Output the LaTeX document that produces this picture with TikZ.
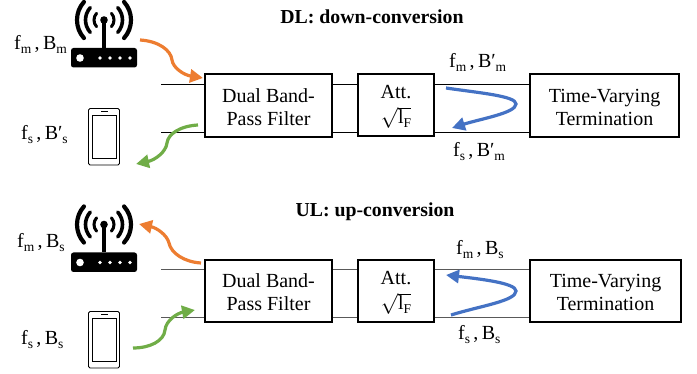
\documentclass[tikz,border=0pt]{standalone}
\usepackage{fontspec}
\setmainfont{Liberation Serif}
\usetikzlibrary{arrows.meta}
\definecolor{corange}{HTML}{ED7D31}
\definecolor{cgreen}{HTML}{70AD47}
\definecolor{cblue}{HTML}{4472C4}
\newcommand{\sbs}[1]{\raisebox{-4pt}{\fontsize{13.5}{14}\selectfont #1}}
\newcommand{\lbl}[3]{f\sbs{#1}\,,\,B#3\sbs{#2}}
\newcommand{\gapup}{\rule{0pt}{17pt}}
\tikzset{
  x=1pt,y=-1pt,
  every node/.style={font=\fontsize{20}{23}\selectfont},
  blockbox/.style={draw=black,line width=1.6pt,align=center,inner sep=0pt},
  tag/.style={anchor=base west,inner sep=0pt},
  titletxt/.style={anchor=base,inner sep=0pt,font=\fontsize{19.8}{23}\selectfont\bfseries},
  wire/.style={line width=0.9pt},
  flow/.style={line width=3.2pt,line cap=butt,-{Triangle[length=13pt,width=13pt]}},
  router/.pic={
    \fill[rounded corners=2.5pt] (71,48) rectangle (137,67.5);
    \fill[white] (80,58) circle (3.8);
    \foreach \xx in {100,110,120,130} \fill[white] (\xx,58) circle (1.8);
    \draw[line width=3.2pt] (104,20) -- (104,48);
    \fill (104,20) circle (3.8);
    \foreach \rr/\lw in {10/3,18.5/3.6,27/4.2}{
      \draw[line width=\lw pt,line cap=round] (104,20) ++(-42:\rr) arc[start angle=-42,end angle=42,radius=\rr,y=1pt];
      \draw[line width=\lw pt,line cap=round] (104,20) ++(138:\rr) arc[start angle=138,end angle=222,radius=\rr,y=1pt];
    }
  },
  phone/.pic={
    \draw[line width=0.9pt,rounded corners=1.5pt] (88.5,108.5) rectangle (119.5,165);
    \draw[line width=0.9pt] (92,115) rectangle (116.5,158);
    \draw[line width=1.2pt] (101,111.7) -- (108,111.7);
  }
}
\begin{document}
\begin{tikzpicture}
\useasboundingbox (0,0) rectangle (697,374);
% ---------- DL ----------
\node[titletxt] (t1) at (372,24) {DL: down-conversion};
\pic {router};
\pic {phone};
\coordinate (u1) at (161,84.3);
\coordinate (d1) at (161,132.5);
\node[blockbox,minimum width=127pt,minimum height=63pt] (f1) at (268.5,105.5) {\gapup Dual Band-\\Pass Filter};
\node[blockbox,minimum width=76pt,minimum height=62pt] (a1) at (396,105) {\gapup Att.\\[2pt]$\sqrt{\hbox{l\sbs{F}}}$};
\node[blockbox,minimum width=149pt,minimum height=63pt] (v1) at (604.5,105.5) {\gapup Time-Varying\\Termination};
\draw[wire] (u1) -- (f1.west|-u1);
\draw[wire] (d1) -- (f1.west|-d1);
\draw[wire] (f1.east|-u1) -- (a1.west|-u1);
\draw[wire] (f1.east|-d1) -- (a1.west|-d1);
\draw[wire] (a1.east|-u1) -- (v1.west|-u1);
\draw[wire] (a1.east|-d1) -- (v1.west|-d1);
\node[tag] (l1) at (14,50) {\lbl{m}{m}{}};
\node[tag] (l2) at (21,140) {\lbl{s}{s}{′}};
\node[tag] (l3) at (449,68) {\lbl{m}{m}{′}};
\node[tag] (l4) at (453,157) {\lbl{s}{m}{′}};
\coordinate (oa) at (140,40);
\coordinate (ob) at (203,78);
\coordinate (ga) at (198,125);
\coordinate (gb) at (136,164);
\coordinate (ba) at (446,88);
\coordinate (bb) at (452,128);
\draw[flow,corange] (oa) .. controls (158,41) and (171,50) .. (172,60) .. controls (173,68) and (184,75) .. (ob);
\draw[flow,cgreen] (ga) .. controls (180,126) and (168,134) .. (167,143) .. controls (166,152) and (155,160) .. (gb);
\draw[flow,cblue] (ba) .. controls (480,93) and (516,96) .. (516,104) .. controls (516,113) and (480,119) .. (bb);
% ---------- UL ----------
\node[titletxt] (t2) at (375,217) {UL: up-conversion};
\pic[yshift=-204.5pt] {router};
\pic[yshift=-203pt] {phone};
\coordinate (u2) at (161,269);
\coordinate (d2) at (161,317);
\node[blockbox,minimum width=127pt,minimum height=62pt] (f2) at (268.5,291) {\gapup Dual Band-\\Pass Filter};
\node[blockbox,minimum width=76pt,minimum height=62pt] (a2) at (396,291) {\gapup Att.\\[2pt]$\sqrt{\hbox{l\sbs{F}}}$};
\node[blockbox,minimum width=151pt,minimum height=62pt] (v2) at (605.5,291) {\gapup Time-Varying\\Termination};
\draw[wire,black!65] (u2) -- (f2.west|-u2);
\draw[wire,black!65] (d2) -- (f2.west|-d2);
\draw[wire,black!65] (f2.east|-u2) -- (a2.west|-u2);
\draw[wire,black!65] (f2.east|-d2) -- (a2.west|-d2);
\draw[wire,black!65] (a2.east|-u2) -- (v2.west|-u2);
\draw[wire,black!65] (a2.east|-d2) -- (v2.west|-d2);
\node[tag] (l5) at (17,248) {\lbl{m}{s}{}};
\node[tag] (l6) at (21,345) {\lbl{s}{s}{}};
\node[tag] (l7) at (456,255) {\lbl{m}{s}{}};
\node[tag] (l8) at (458,340) {\lbl{s}{s}{}};
\coordinate (oc) at (201,263);
\coordinate (od) at (139,224);
\coordinate (gc) at (133,348);
\coordinate (gd) at (195,310);
\coordinate (bc) at (451,315);
\coordinate (bd) at (446,275);
\draw[flow,corange] (oc) .. controls (184,262) and (171,253) .. (169,243) .. controls (167,235) and (157,228) .. (od);
\draw[flow,cgreen] (gc) .. controls (150,348) and (164,341) .. (165,330) .. controls (166,320) and (178,313) .. (gd);
\draw[flow,cblue] (bc) .. controls (480,306) and (516,301) .. (516,291) .. controls (516,283) and (480,279) .. (bd);
\end{tikzpicture}
\end{document}
